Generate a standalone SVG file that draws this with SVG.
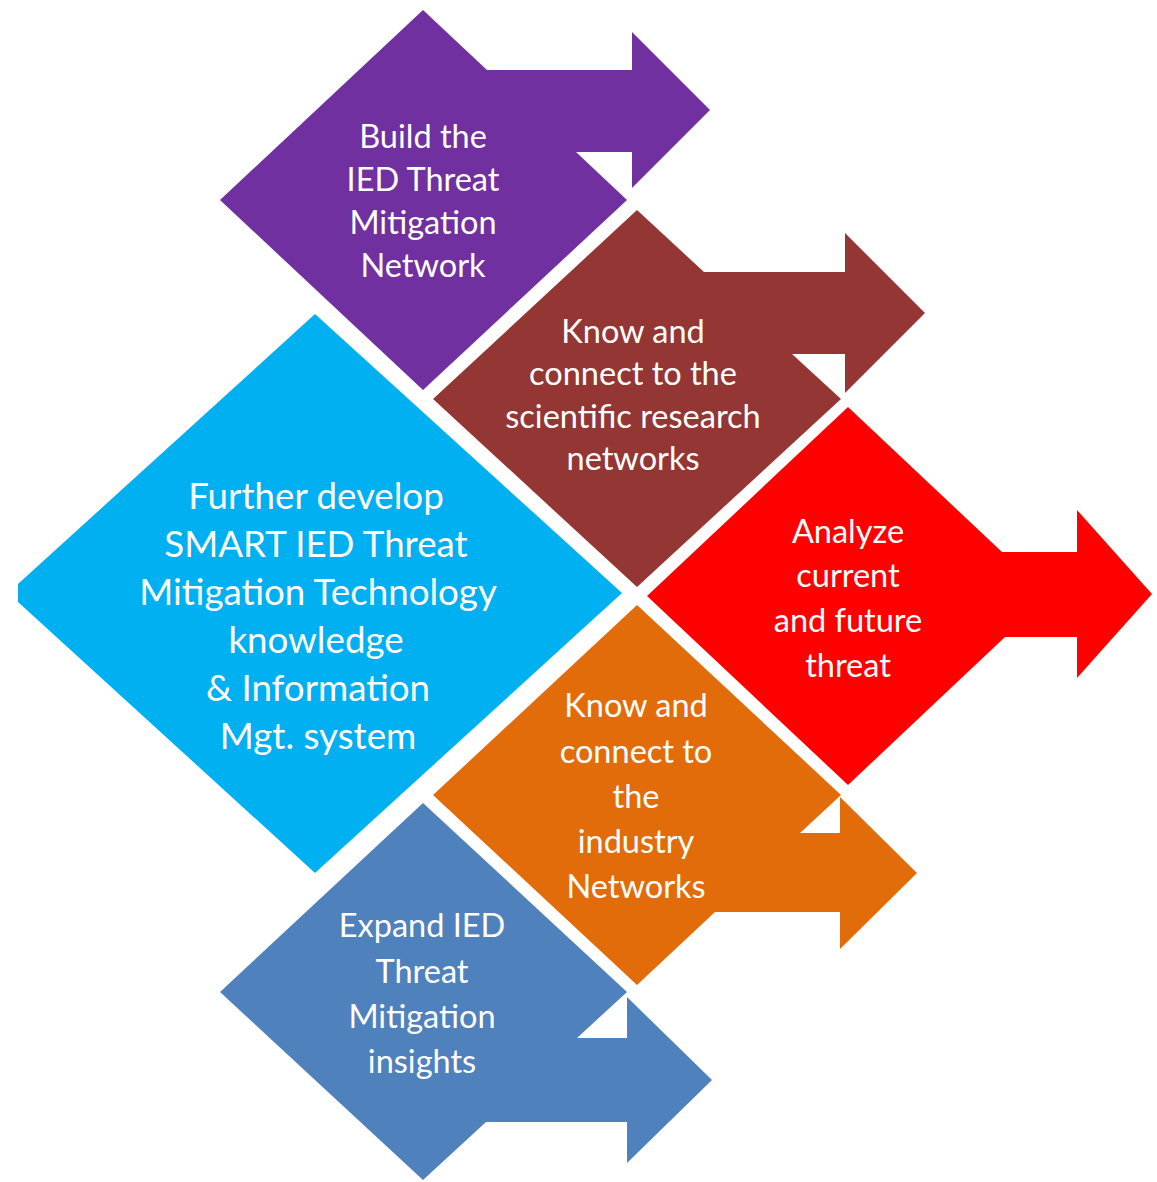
<svg xmlns="http://www.w3.org/2000/svg" width="1157" height="1182" viewBox="0 0 1157 1182">
<style>
text{font-family:Lato,"Liberation Sans",sans-serif;fill:#ffffff;text-anchor:middle;}
.s{font-size:32.5px;}
.l{font-size:36.7px;}
</style>
<rect width="1157" height="1182" fill="#ffffff"/>
<g id="connectors"></g>
<g id="node-build">
<path fill="#7030A0" d="M423,10 L487,70 L632,70 L632,32 L710,110 L632,188 L632,152 L576,152 L627,200 L423,390 L220,200 Z"/>
<text class="s" x="423" y="148">Build the</text>
<text class="s" x="423" y="191">IED Threat</text>
<text class="s" x="423" y="234">Mitigation</text>
<text class="s" x="423" y="277">Network</text>
</g>
<g id="node-scientific">
<path fill="#943634" d="M637,210 L704,272 L845,272 L845,233 L925,313 L845,393 L845,354 L792,354 L841,399 L637,587 L433,399 Z"/>
<text class="s" x="633" y="343">Know and</text>
<text class="s" x="633" y="385">connect to the</text>
<text class="s" x="633" y="428">scientific research</text>
<text class="s" x="633" y="470">networks</text>
</g>
<g id="node-analyze">
<path fill="#FF0000" d="M848,407 L1002,552 L1077,552 L1077,510 L1152,594 L1077,678 L1077,637 L1005,637 L848,785 L647,596 Z"/>
<text class="s" x="848" y="543">Analyze</text>
<text class="s" x="848" y="587">current</text>
<text class="s" x="848" y="632">and future</text>
<text class="s" x="848" y="677">threat</text>
</g>
<g id="node-industry">
<path fill="#E36C0A" d="M637,605 L841,795 L800,833 L840,833 L840,797 L917,873 L840,949 L840,912 L715,912 L637,985 L433,795 Z"/>
<text class="s" x="636" y="717">Know and</text>
<text class="s" x="636" y="763">connect to</text>
<text class="s" x="636" y="808">the</text>
<text class="s" x="636" y="853">industry</text>
<text class="s" x="636" y="898">Networks</text>
</g>
<g id="node-expand">
<path fill="#4F81BD" d="M423,803 L627,992 L577,1038 L627,1038 L627,997 L712,1080 L627,1163 L627,1122 L486,1122 L423,1180 L220,992 Z"/>
<text class="s" x="422" y="937">Expand IED</text>
<text class="s" x="422" y="983">Threat</text>
<text class="s" x="422" y="1028">Mitigation</text>
<text class="s" x="422" y="1073">insights</text>
</g>
<g id="node-center">
<path fill="#00B0F0" d="M315,314 L622,593 L315,873 L18,602 L18,584 Z"/>
<text class="l" x="316" y="509">Further develop</text>
<text class="l" x="316" y="557">SMART IED Threat</text>
<text class="l" x="318" y="605">Mitigation Technology</text>
<text class="l" x="316" y="653">knowledge</text>
<text class="l" x="318" y="701">&amp; Information</text>
<text class="l" x="318" y="749">Mgt. system</text>
</g>
</svg>
